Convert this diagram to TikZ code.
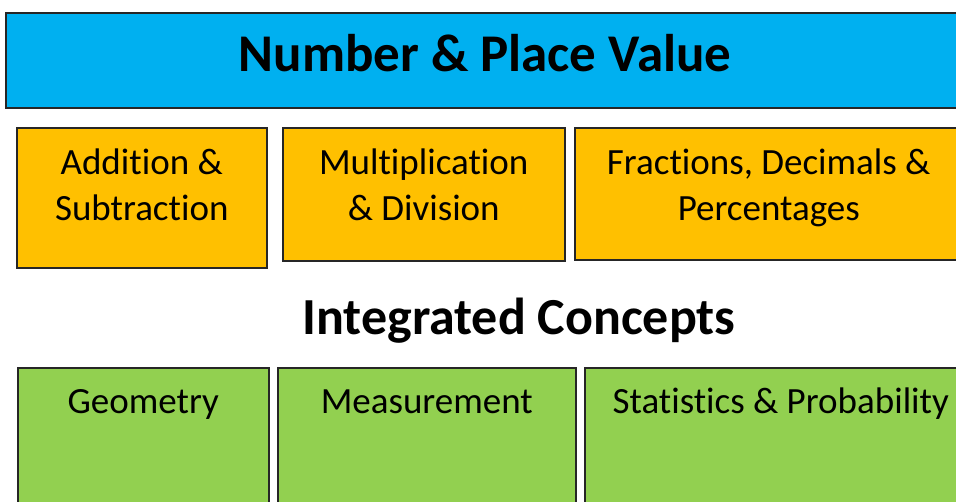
\documentclass[tikz,border=0pt]{standalone}
\usepackage{fontspec}
\setmainfont{Carlito}[Ligatures=NoCommon]
\usetikzlibrary{positioning,calc}
\definecolor{pvblue}{HTML}{00B0F0}
\definecolor{opgold}{HTML}{FFC000}
\definecolor{icgreen}{HTML}{92D050}

\begin{document}
\begin{tikzpicture}[x=1pt,y=-1pt,
        box/.style={draw=black!85,line width=1.5pt,inner sep=0pt,anchor=north west},
        boxtext/.style={inner sep=0pt,align=center,font=\fontsize{37}{46}\selectfont},
        headtext/.style={inner sep=0pt,font=\fontsize{#1}{#1}\selectfont\bfseries}]

        \useasboundingbox (0,0) rectangle (956,501);
        \clip (0,0) rectangle (956,501);

        %% top bar
        \node [box, fill=pvblue, minimum width=960pt, minimum height=95pt] (pv_bar) at (5,12) {};
        \node [headtext=53, anchor=base] (pv_txt) at (485,71) {Number \& Place Value};

        %% operations
        \node [box, fill=opgold, minimum width=250pt, minimum height=140pt] (op_1) at (16,127) {};
        \node [box, fill=opgold, minimum width=282pt, minimum height=133pt] (op_2) at (282,127) {};
        \node [box, fill=opgold, minimum width=388pt, minimum height=132pt] (op_3) at (574,127) {};
        \node [boxtext, below=22pt of op_1.north] (op_txt_1) {Addition \&\\Subtraction};
        \node [boxtext, below=22pt of op_2.north] (op_txt_2) {Multiplication\\\& Division};
        \node [boxtext, below=22pt of op_3.north] (op_txt_3) {Fractions, Decimals \&\\Percentages};

        \node [headtext=52, anchor=base] (ic_txt) at (519,334) {Integrated Concepts};

        %% integrated concepts
        \node [box, fill=icgreen, minimum width=251pt, minimum height=150pt] (ic_1) at (17,367) {};
        \node [box, fill=icgreen, minimum width=298pt, minimum height=150pt] (ic_2) at (277,367) {};
        \node [box, fill=icgreen, minimum width=392pt, minimum height=150pt] (ic_3) at (584,367) {};
        \foreach \a/\t in {1/Geometry,2/Measurement,3/Statistics \& Probability} {
          \node [boxtext, anchor=base, name=ic_txt_\a] at ($(ic_\a.north)+(0,46)$) {\t};
        }

\end{tikzpicture}
\end{document}
